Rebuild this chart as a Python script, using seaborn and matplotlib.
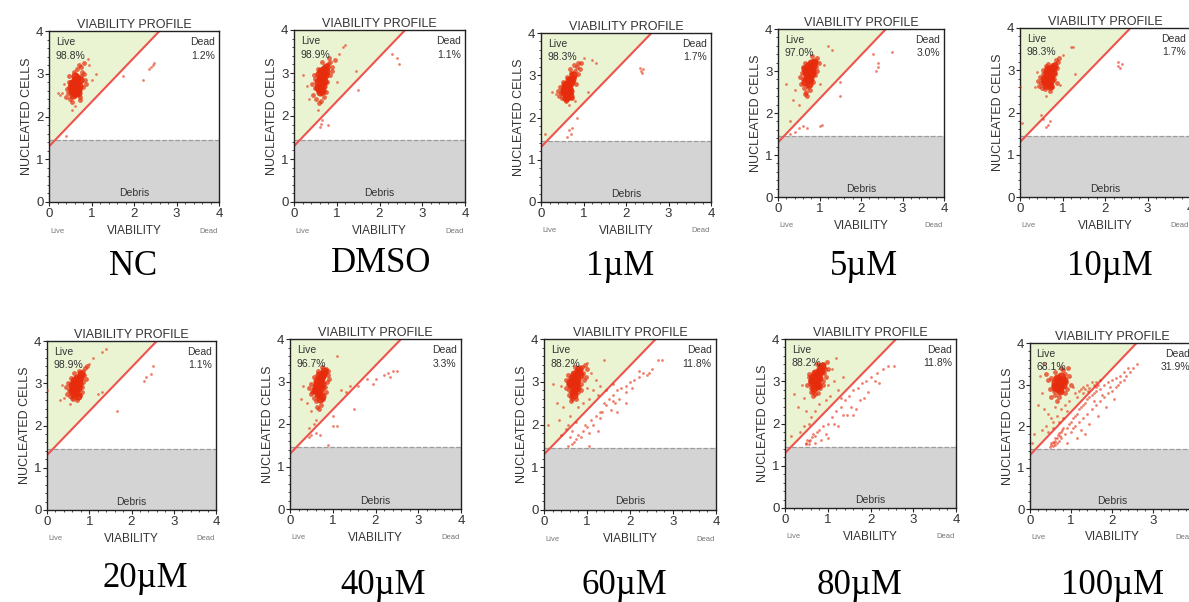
import matplotlib
matplotlib.use("Agg")
import matplotlib.pyplot as plt
import pandas as pd
import seaborn as sns
from matplotlib.patches import Polygon, Rectangle
from matplotlib.ticker import MultipleLocator

sns.set_style("white")
plt.rcParams['font.family'] = ['Liberation Sans Narrow', 'Liberation Sans', 'DejaVu Sans']

# condition names and gate percentages
conditions = ["NC", "DMSO", "1µM", "5µM", "10µM", "20µM", "40µM", "60µM", "80µM", "100µM"]
live_pct = ["98.8%", "98.9%", "98.3%", "97.0%", "98.3%", "98.9%", "96.7%", "88.2%", "88.2%", "68.1%"]
dead_pct = ["1.2%", "1.1%", "1.7%", "3.0%", "1.7%", "1.1%", "3.3%", "11.8%", "11.8%", "31.9%"]

# events (viability, nucleated cells) estimated from each panel;
# each list starts with the dense core, then the rest of the main cluster, then scattered events
nc_pts = [(0.55, 2.60), (0.60, 2.65), (0.65, 2.70), (0.58, 2.75), (0.62, 2.55), (0.68, 2.62), (0.52, 2.68),
          (0.66, 2.80), (0.60, 2.85), (0.57, 2.50), (0.70, 2.72), (0.63, 2.58), (0.54, 2.78), (0.67, 2.90),
          (0.61, 2.95), (0.72, 2.85), (0.59, 2.62), (0.64, 2.66), (0.56, 2.71), (0.69, 2.55),
          (0.45, 2.55), (0.48, 2.80), (0.75, 2.95), (0.78, 3.05), (0.80, 2.70), (0.42, 2.65), (0.50, 2.40),
          (0.72, 2.45), (0.85, 2.85), (0.76, 3.15), (0.70, 3.20), (0.82, 3.00), (0.46, 2.95), (0.58, 3.05),
          (0.65, 3.10), (0.88, 2.75), (0.40, 2.45), (0.53, 2.35), (0.83, 3.25), (0.74, 2.38),
          (0.30, 2.55), (0.25, 2.50), (0.95, 3.20), (1.00, 2.85), (0.35, 2.75), (0.60, 2.25), (0.92, 3.35),
          (0.20, 2.55), (1.10, 3.00), (0.55, 2.15),
          (2.40, 3.15), (2.45, 3.20), (2.35, 3.12), (2.48, 3.25), (2.20, 2.85), (1.75, 2.95), (0.40, 1.55)]

dmso_pts = [(0.60, 2.70), (0.65, 2.80), (0.62, 2.90), (0.68, 3.00), (0.58, 2.62), (0.70, 3.10), (0.63, 2.75),
            (0.55, 2.68), (0.72, 2.95), (0.66, 2.58), (0.60, 2.85), (0.74, 3.15), (0.57, 2.78), (0.69, 2.70),
            (0.64, 3.05), (0.61, 2.55), (0.71, 2.82), (0.67, 2.92), (0.59, 2.98), (0.76, 3.05),
            (0.48, 2.65), (0.50, 2.85), (0.80, 3.20), (0.85, 3.25), (0.78, 2.80), (0.45, 2.50), (0.52, 2.40),
            (0.75, 2.55), (0.88, 3.05), (0.82, 3.35), (0.90, 3.15), (0.55, 3.10), (0.47, 2.95), (0.70, 2.45),
            (0.62, 2.35), (0.95, 3.30), (0.42, 2.75), (0.58, 2.30), (0.84, 2.95), (0.66, 3.25),
            (1.20, 3.65), (1.15, 3.60), (1.05, 3.45), (0.20, 2.95), (0.30, 2.70), (1.45, 3.05), (1.50, 2.60),
            (1.00, 2.80), (0.55, 2.15), (0.35, 2.40),
            (0.60, 1.75), (0.65, 1.90), (0.62, 1.82), (0.80, 1.80), (2.30, 3.45), (2.42, 3.35), (2.45, 3.22)]

um1_pts = [(0.60, 2.62), (0.63, 2.70), (0.58, 2.55), (0.66, 2.78), (0.55, 2.66), (0.62, 2.50), (0.68, 2.62),
           (0.70, 2.85), (0.57, 2.72), (0.64, 2.58), (0.72, 2.92), (0.61, 2.80), (0.53, 2.60), (0.67, 2.68),
           (0.59, 2.47), (0.75, 3.00), (0.65, 2.88), (0.56, 2.76), (0.69, 2.52), (0.62, 2.64),
           (0.48, 2.58), (0.45, 2.72), (0.80, 3.10), (0.85, 3.20), (0.78, 2.95), (0.50, 2.45), (0.72, 2.45),
           (0.82, 2.80), (0.88, 3.28), (0.92, 3.15), (0.77, 3.25), (0.52, 2.85), (0.42, 2.50), (0.70, 3.05),
           (0.60, 2.95), (0.95, 3.30), (0.40, 2.62), (0.58, 2.40), (0.86, 3.02), (0.68, 3.15),
           (1.30, 3.30), (1.20, 3.35), (1.10, 2.60), (0.25, 2.60), (0.35, 2.55), (1.00, 3.40), (0.80, 2.40),
           (0.65, 2.30), (0.10, 1.60), (0.85, 2.00),
           (0.65, 1.70), (0.70, 1.62), (0.60, 1.55), (0.72, 1.75), (2.35, 3.10), (2.40, 3.15), (2.38, 3.05),
           (2.33, 3.18)]

um5_pts = [(0.72, 2.90), (0.75, 2.95), (0.78, 3.05), (0.70, 2.85), (0.80, 3.10), (0.68, 2.98), (0.76, 2.80),
           (0.73, 3.12), (0.82, 2.95), (0.66, 2.75), (0.79, 3.20), (0.71, 3.02), (0.84, 3.15), (0.74, 2.70),
           (0.69, 2.92), (0.77, 2.88), (0.65, 3.05), (0.81, 3.00), (0.73, 2.78), (0.86, 3.22),
           (0.60, 2.80), (0.58, 2.95), (0.90, 3.25), (0.92, 3.10), (0.62, 2.60), (0.68, 2.50), (0.85, 2.75),
           (0.95, 3.30), (0.55, 2.70), (0.64, 3.20), (0.88, 2.90), (0.70, 2.40), (0.52, 2.85), (0.98, 3.20),
           (0.76, 2.55), (0.60, 3.10), (0.94, 3.00), (0.66, 2.45), (0.83, 3.35), (0.72, 2.62),
           (1.20, 3.60), (1.30, 3.50), (0.20, 2.70), (0.35, 2.30), (1.50, 2.75), (1.50, 2.40), (1.10, 3.15),
           (0.40, 2.55), (1.00, 2.70), (0.50, 2.20), (0.30, 1.80),
           (2.30, 3.40), (2.40, 3.20), (2.40, 3.10), (2.35, 3.00), (2.75, 3.45), (0.50, 1.65), (0.60, 1.70),
           (0.70, 1.65), (1.00, 1.70), (1.05, 1.72), (0.30, 1.50), (0.40, 1.55)]

um10_pts = [(0.65, 2.80), (0.68, 2.85), (0.70, 2.92), (0.62, 2.75), (0.73, 3.00), (0.66, 2.70), (0.60, 2.82),
            (0.72, 2.78), (0.75, 3.05), (0.64, 2.88), (0.69, 2.68), (0.58, 2.72), (0.77, 2.95), (0.63, 2.95),
            (0.71, 2.62), (0.67, 3.02), (0.56, 2.80), (0.74, 2.86), (0.61, 2.64), (0.79, 3.10),
            (0.50, 2.70), (0.48, 2.85), (0.82, 3.15), (0.85, 3.25), (0.80, 2.80), (0.52, 2.58), (0.58, 2.55),
            (0.76, 2.60), (0.88, 3.05), (0.90, 3.20), (0.55, 3.00), (0.45, 2.62), (0.60, 3.10), (0.83, 2.92),
            (0.70, 2.52), (0.92, 3.30), (0.42, 2.75), (0.66, 3.15), (0.86, 2.70), (0.53, 2.92),
            (1.20, 3.55), (1.25, 3.55), (0.00, 2.60), (1.30, 2.90), (0.35, 2.60), (1.00, 3.35), (0.95, 2.65),
            (0.40, 2.95), (0.60, 2.40),
            (0.05, 1.75), (0.50, 1.95), (0.55, 1.85), (0.60, 1.65), (0.65, 1.70), (0.70, 1.80), (2.30, 3.10),
            (2.35, 3.05), (2.40, 3.15), (2.30, 3.20)]

um20_pts = [(0.68, 2.92), (0.70, 2.98), (0.72, 3.05), (0.65, 2.85), (0.75, 3.10), (0.66, 3.00), (0.62, 2.90),
            (0.74, 2.88), (0.78, 3.15), (0.69, 2.80), (0.71, 3.12), (0.60, 2.95), (0.76, 2.98), (0.64, 2.75),
            (0.73, 2.70), (0.67, 3.08), (0.80, 3.22), (0.58, 2.82), (0.72, 2.92), (0.63, 3.05),
            (0.52, 2.85), (0.50, 3.00), (0.85, 3.30), (0.88, 3.20), (0.82, 2.90), (0.55, 2.70), (0.62, 2.62),
            (0.78, 2.72), (0.90, 3.35), (0.92, 3.10), (0.56, 3.12), (0.48, 2.75), (0.65, 3.25), (0.86, 3.02),
            (0.70, 2.60), (0.95, 3.40), (0.45, 2.90), (0.76, 3.30), (0.84, 2.80), (0.60, 2.65),
            (1.30, 3.75), (1.40, 3.80), (1.10, 3.60), (0.00, 2.85), (0.30, 2.60), (1.30, 2.80), (1.20, 2.75),
            (0.35, 2.95), (1.00, 3.45), (0.55, 2.50), (0.40, 2.65),
            (1.65, 2.35), (2.30, 3.05), (2.35, 3.15), (2.50, 3.40), (2.45, 3.22)]

um40_pts = [(0.68, 2.90), (0.70, 2.98), (0.73, 3.08), (0.66, 2.82), (0.75, 3.12), (0.64, 2.95), (0.62, 2.78),
            (0.72, 2.85), (0.78, 3.18), (0.69, 2.72), (0.71, 3.05), (0.60, 2.88), (0.76, 2.95), (0.65, 2.70),
            (0.74, 2.65), (0.67, 3.15), (0.80, 3.25), (0.58, 2.80), (0.70, 2.60), (0.63, 3.02),
            (0.52, 2.75), (0.50, 2.95), (0.85, 3.30), (0.88, 3.15), (0.82, 2.88), (0.55, 2.62), (0.60, 2.55),
            (0.78, 2.60), (0.90, 3.25), (0.55, 3.10), (0.48, 2.70), (0.65, 3.25), (0.86, 2.98), (0.72, 2.45),
            (0.45, 2.85), (0.76, 3.35), (0.84, 2.75), (0.62, 2.40), (0.92, 3.05), (0.68, 2.35),
            (1.10, 3.60), (0.30, 2.90), (0.25, 2.60), (1.20, 2.80), (1.30, 2.75), (1.40, 2.90), (1.00, 2.20),
            (0.50, 2.30), (0.60, 2.10), (0.55, 2.00), (0.45, 1.90), (1.60, 2.90), (0.40, 2.50),
            (1.50, 2.35), (0.50, 1.75), (0.45, 1.70), (0.60, 1.80), (0.70, 1.75), (1.00, 1.95), (1.10, 1.95),
            (0.90, 1.50), (1.80, 3.05), (1.95, 2.95), (2.00, 3.05), (2.20, 3.15), (2.30, 3.20), (2.40, 3.25),
            (2.50, 3.25), (2.35, 3.10)]

um60_pts = [(0.70, 3.05), (0.72, 3.10), (0.75, 3.15), (0.68, 3.00), (0.78, 3.20), (0.66, 2.95), (0.74, 3.00),
            (0.80, 3.25), (0.71, 2.90), (0.64, 3.08), (0.77, 3.05), (0.69, 3.18), (0.82, 3.30), (0.62, 2.92),
            (0.73, 2.82), (0.67, 2.75), (0.76, 2.88), (0.60, 3.00), (0.70, 2.70), (0.84, 3.15),
            (0.55, 2.95), (0.58, 2.80), (0.88, 3.35), (0.90, 3.20), (0.62, 2.65), (0.85, 2.95), (0.55, 3.15),
            (0.66, 2.60), (0.80, 2.75), (0.92, 3.05), (0.50, 2.85), (0.95, 3.40), (0.75, 2.60), (0.58, 2.70),
            (1.00, 3.30), (0.63, 2.55), (0.86, 2.80), (0.52, 3.05), (0.98, 3.10), (0.72, 3.35),
            (1.10, 3.20), (1.20, 3.05), (1.00, 2.85), (1.15, 2.80), (1.30, 2.90), (0.40, 2.90), (0.20, 2.95),
            (0.30, 2.50), (0.45, 2.40), (0.60, 2.20), (0.55, 2.00), (0.50, 1.90), (0.40, 1.75), (0.35, 2.10),
            (0.80, 2.40), (0.90, 2.50), (1.05, 2.60), (1.25, 2.70), (0.10, 2.00), (1.40, 3.50), (1.00, 3.45),
            (0.65, 1.85), (0.75, 2.05), (1.45, 2.80), (1.60, 2.95),
            (0.60, 1.70), (0.70, 1.60), (0.65, 1.55), (0.55, 1.50), (0.80, 1.75), (0.90, 1.85), (1.00, 1.95),
            (1.10, 2.10), (1.20, 2.20), (1.05, 1.50), (1.30, 2.30), (1.40, 2.50), (1.50, 2.60), (1.60, 2.70),
            (1.70, 2.80), (1.80, 2.85), (1.90, 2.90), (2.00, 3.00), (2.10, 3.05), (2.20, 3.10), (2.30, 3.20),
            (2.40, 3.15), (2.45, 3.20), (2.65, 3.50), (2.75, 3.50), (2.20, 3.25), (1.90, 2.75), (1.75, 2.60),
            (1.60, 2.55), (1.15, 2.00), (1.35, 2.30), (1.05, 1.80), (0.95, 2.00), (1.90, 2.50), (1.70, 2.30),
            (1.30, 2.15), (0.75, 1.65), (0.85, 1.70), (1.25, 1.85), (1.55, 2.35), (2.05, 2.85), (1.45, 2.45),
            (1.65, 2.50), (2.50, 3.30)]

um80_pts = [(0.72, 3.08), (0.75, 3.12), (0.78, 3.18), (0.70, 3.02), (0.80, 3.22), (0.68, 2.98), (0.76, 3.05),
            (0.82, 3.30), (0.73, 2.95), (0.66, 3.10), (0.79, 3.08), (0.71, 3.20), (0.84, 3.25), (0.64, 2.95),
            (0.74, 2.88), (0.69, 2.85), (0.77, 2.92), (0.62, 3.02), (0.86, 3.35), (0.73, 3.15),
            (0.58, 3.00), (0.60, 2.85), (0.90, 3.40), (0.92, 3.20), (0.65, 2.75), (0.88, 3.00), (0.57, 3.18),
            (0.70, 2.70), (0.82, 2.85), (0.95, 3.10), (0.52, 2.90), (0.98, 3.45), (0.78, 2.72), (0.60, 2.75),
            (1.00, 3.30), (0.66, 2.65), (0.88, 2.90), (0.55, 3.10), (0.94, 3.28), (0.76, 3.40),
            (1.10, 3.30), (1.20, 3.55), (1.00, 2.90), (1.15, 3.00), (0.40, 2.90), (0.20, 2.70), (0.30, 2.40),
            (0.50, 2.30), (0.60, 2.15), (0.55, 2.00), (0.45, 1.95), (0.35, 1.80), (0.80, 2.45), (0.95, 2.55),
            (1.05, 2.65), (1.25, 2.80), (0.15, 1.70), (0.70, 2.30), (1.35, 3.10), (0.45, 2.60),
            (0.50, 1.55), (0.52, 1.60), (0.55, 1.58), (0.48, 1.52), (0.58, 1.62), (0.62, 1.68), (0.56, 1.52),
            (0.65, 1.75), (0.70, 1.70), (0.75, 1.80), (0.80, 1.85), (0.90, 1.95), (1.00, 2.00), (1.10, 2.15),
            (1.20, 2.30), (1.30, 2.40), (1.40, 2.55), (1.50, 2.65), (1.60, 2.80), (1.70, 2.85), (1.80, 2.95),
            (1.90, 3.00), (2.00, 3.10), (2.15, 3.20), (2.30, 3.30), (2.40, 3.35), (2.55, 3.35), (2.20, 2.95),
            (1.95, 2.75), (1.75, 2.55), (1.55, 2.40), (1.35, 2.20), (1.15, 2.00), (0.95, 1.75), (1.25, 1.95),
            (1.45, 2.20), (1.65, 2.35), (1.85, 2.60), (1.00, 1.65), (0.70, 1.55), (0.85, 1.60), (2.10, 3.00),
            (1.60, 2.20), (1.30, 2.60)]

um100_pts = [(0.68, 2.98), (0.72, 3.02), (0.75, 3.08), (0.65, 2.92), (0.78, 3.12), (0.70, 2.90), (0.74, 2.95),
             (0.62, 3.05), (0.80, 3.00), (0.66, 3.15), (0.73, 2.85), (0.69, 3.10), (0.76, 3.20), (0.60, 2.95),
             (0.82, 3.10),
             (0.55, 3.00), (0.58, 2.85), (0.85, 3.25), (0.88, 3.05), (0.62, 2.75), (0.90, 2.90), (0.52, 3.15),
             (0.70, 2.70), (0.95, 3.20), (0.48, 2.90), (0.80, 3.35), (0.60, 3.30), (1.00, 3.00), (0.45, 3.10),
             (0.85, 2.80), (0.65, 2.60), (0.75, 3.40), (0.50, 2.70), (0.92, 3.40), (0.40, 3.25),
             (1.20, 2.85), (1.25, 2.90), (1.30, 2.95), (1.35, 2.88), (1.40, 3.00), (1.45, 2.92), (1.50, 3.05),
             (1.55, 2.98), (1.60, 3.05), (1.65, 3.00), (1.30, 2.80), (1.42, 2.85), (1.10, 2.80), (1.15, 2.70),
             (1.05, 2.95), (1.70, 3.10), (1.60, 2.95),
             (0.30, 2.80), (0.20, 2.50), (0.35, 2.40), (0.45, 2.30), (0.50, 2.20), (0.40, 2.00), (0.30, 1.90),
             (0.55, 2.10), (0.65, 2.25), (0.75, 2.40), (0.85, 2.50), (0.95, 2.60), (0.10, 1.80), (0.05, 1.60),
             (0.60, 2.45), (0.80, 2.20), (0.25, 3.20), (0.35, 3.50), (0.90, 2.35), (0.70, 2.10), (0.45, 1.85),
             (0.55, 1.95),
             (0.50, 1.55), (0.52, 1.60), (0.55, 1.62), (0.58, 1.58), (0.60, 1.65), (0.62, 1.70), (0.65, 1.72),
             (0.68, 1.78), (0.70, 1.82), (0.72, 1.75), (0.75, 1.85), (0.78, 1.90), (0.80, 1.95), (0.55, 1.52),
             (0.60, 1.55), (0.65, 1.60), (0.70, 1.65), (0.75, 1.70), (0.85, 1.80), (0.48, 1.50), (0.90, 1.95),
             (0.95, 2.05), (1.00, 2.10), (1.05, 2.20), (1.10, 2.25), (1.15, 2.30), (1.20, 2.40), (1.25, 2.45),
             (1.30, 2.50), (1.35, 2.55), (1.40, 2.65), (1.45, 2.70), (1.50, 2.75), (1.55, 2.80), (1.60, 2.85),
             (1.70, 2.90), (1.80, 3.00), (1.90, 3.05), (2.00, 3.10), (2.10, 3.15), (2.20, 3.20), (2.30, 3.30),
             (2.40, 3.40), (2.50, 3.40), (2.60, 3.50), (1.00, 1.85), (1.10, 2.00), (1.20, 2.10), (1.30, 2.20),
             (1.40, 2.30), (1.50, 2.40), (1.60, 2.50), (1.70, 2.60), (1.80, 2.70), (1.90, 2.80), (2.00, 2.85),
             (2.10, 2.95), (2.20, 3.05), (2.30, 3.10), (1.25, 1.90), (1.45, 2.05), (1.65, 2.25), (1.85, 2.45),
             (2.05, 2.65), (1.15, 1.70), (1.35, 1.80), (0.90, 1.60), (1.55, 2.60), (1.75, 2.75), (1.95, 2.95),
             (2.15, 3.00), (2.35, 3.20), (2.45, 3.30), (1.05, 1.95)]

all_pts = [nc_pts, dmso_pts, um1_pts, um5_pts, um10_pts, um20_pts, um40_pts, um60_pts, um80_pts, um100_pts]
# how many leading events of each list form the dense core / the main cluster
core_n = [20, 20, 20, 20, 20, 20, 20, 20, 20, 15]
cluster_n = [40, 40, 40, 40, 40, 40, 40, 40, 40, 35]

# panel boxes in pixels: left, top, right, bottom
boxes = [(49, 31, 219, 202), (294, 30, 465, 202), (541, 33, 711, 202), (778, 29, 944, 197), (1020, 28, 1190, 197),
         (47, 341, 216, 510), (290, 339, 461, 509), (544, 339, 716, 510), (785, 339, 956, 508), (1030, 343, 1194, 509)]
# caption centre x and baseline y in pixels
captions = [(133, 275), (381, 272), (620, 275), (864, 275), (1110, 275),
            (145, 587), (383, 594), (624, 594), (860, 594), (1113, 594)]

W, H = 1189, 602
fig = plt.figure(figsize=(W / 100, H / 100), dpi=100)
fig.patch.set_facecolor('white')

txt = '#333333'
red = '#e62c0c'
for i, (pts, live, dead, box, name, cap) in enumerate(zip(all_pts, live_pct, dead_pct, boxes, conditions, captions)):
    l, t, r, b = box
    ax = fig.add_axes([l / W, 1 - b / H, (r - l) / W, (b - t) / H])

    # gates
    ax.add_patch(Rectangle((0, 0), 4, 1.45, facecolor='#d4d4d4', edgecolor='none', zorder=0))
    ax.add_patch(Polygon([(0, 1.45), (0.145, 1.45), (2.6, 4), (0, 4)],
                         facecolor='#eaf4d3', edgecolor='none', zorder=0))
    ax.axhline(1.45, color='#9c9c9c', ls='--', lw=0.9, zorder=1)
    ax.plot([0, 2.6], [1.3, 4], color='#f0524c', lw=1.5, zorder=2)

    df = pd.DataFrame(pts, columns=['viability', 'nucleated'])
    tiers = [(df.iloc[cluster_n[i]:], 4, 0.6),
             (df.iloc[core_n[i]:cluster_n[i]], 12, 0.7),
             (df.iloc[:core_n[i]], 34, 0.9)]
    for part, size, alpha in tiers:
        sns.scatterplot(data=part, x='viability', y='nucleated', ax=ax, s=size, color=red,
                        alpha=alpha, linewidth=0, zorder=3, legend=False)

    ax.set_xlim(0, 4)
    ax.set_ylim(0, 4)
    ax.set_xticks(range(5))
    ax.set_yticks(range(5))
    ax.xaxis.set_minor_locator(MultipleLocator(0.2))
    ax.yaxis.set_minor_locator(MultipleLocator(0.2))
    ax.tick_params(which='major', direction='out', length=3, width=0.8, labelsize=9.5,
                   labelcolor=txt, pad=1, bottom=True, left=True)
    ax.tick_params(which='minor', direction='out', length=1.5, width=0.6, bottom=True, left=True)
    for sp in ax.spines.values():
        sp.set_color('#222222')
        sp.set_linewidth(1.0)

    ax.set_xlabel('')
    ax.set_ylabel('NUCLEATED CELLS', fontsize=9, color=txt, labelpad=2)
    ax.set_title('VIABILITY PROFILE', fontsize=9, color=txt, pad=2)

    ax.text(0.04, 0.965, 'Live', transform=ax.transAxes, fontsize=7.5, color=txt, va='top', ha='left')
    ax.text(0.04, 0.885, live, transform=ax.transAxes, fontsize=7.5, color=txt, va='top', ha='left')
    ax.text(0.975, 0.965, 'Dead', transform=ax.transAxes, fontsize=7.5, color=txt, va='top', ha='right')
    ax.text(0.975, 0.885, dead, transform=ax.transAxes, fontsize=7.5, color=txt, va='top', ha='right')
    ax.text(0.5, 0.05, 'Debris', transform=ax.transAxes, fontsize=7.5, color=txt, va='center', ha='center')

    ax.text(0.5, -0.17, 'VIABILITY', transform=ax.transAxes, fontsize=8.5, color=txt, va='center', ha='center')
    ax.text(0.05, -0.17, 'Live', transform=ax.transAxes, fontsize=5.5, color='#777777', va='center', ha='center')
    ax.text(0.94, -0.17, 'Dead', transform=ax.transAxes, fontsize=5.5, color='#777777', va='center', ha='center')

    fig.text(cap[0] / W, 1 - cap[1] / H, name, fontsize=25, family='Liberation Serif',
             color='black', ha='center', va='baseline')

fig.savefig('out.png', dpi=100)
